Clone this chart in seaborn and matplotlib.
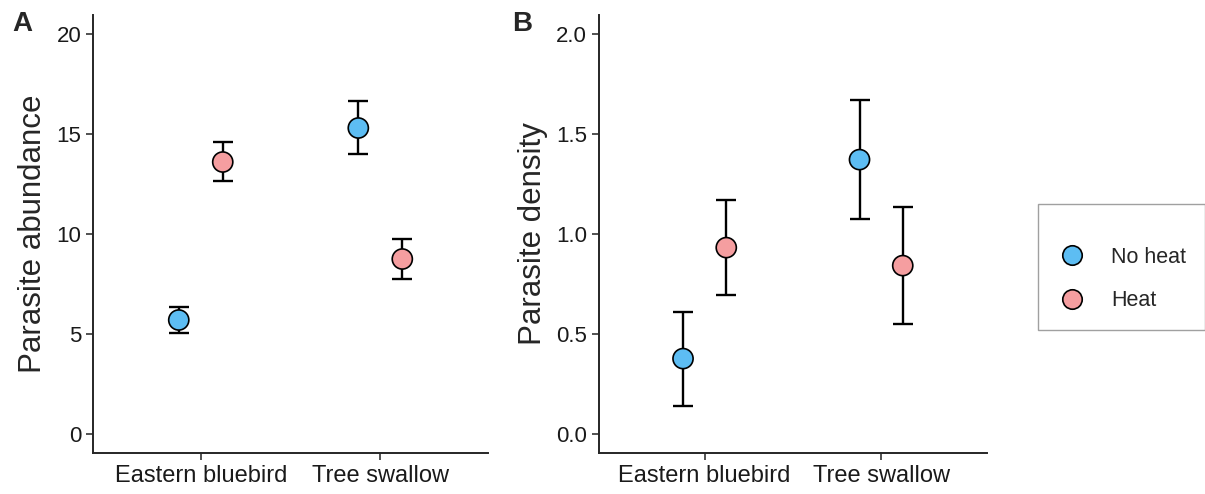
import numpy as np
import pandas as pd
import matplotlib
matplotlib.use("Agg")
import matplotlib.pyplot as plt
import seaborn as sns
from matplotlib.lines import Line2D

species = ["Eastern bluebird", "Tree swallow"]
treatments = ["No heat", "Heat"]

# panel A: parasite abundance (mean, lower, upper)
abund_mean = [5.7, 13.6, 15.3, 8.75]
abund_low = [5.05, 12.65, 14.0, 7.75]
abund_high = [6.35, 14.6, 16.65, 9.75]

# panel B: parasite density
dens_mean = [0.377, 0.932, 1.372, 0.842]
dens_low = [0.14, 0.693, 1.077, 0.548]
dens_high = [0.612, 1.17, 1.67, 1.135]

colors = {"No heat": "#5DBDF3", "Heat": "#F59EA0"}

sns.set_style("ticks")
plt.rcParams["font.family"] = ["Liberation Sans", "DejaVu Sans"]


def make_df(mean, low, high):
    rows = []
    i = 0
    for s_i, s in enumerate(species):
        for t_i, t in enumerate(treatments):
            rows.append({"species": s, "treatment": t,
                         "x": s_i + (t_i - 0.5) * 0.245,
                         "mean": mean[i], "low": low[i], "high": high[i]})
            i += 1
    return pd.DataFrame(rows)


fig = plt.figure(figsize=(12.05, 4.94), dpi=100)
axA = fig.add_axes([0.0772, 0.083, 0.3278, 0.8866])
axB = fig.add_axes([0.4969, 0.083, 0.3222, 0.8866])

panels = [
    (axA, make_df(abund_mean, abund_low, abund_high), "Parasite abundance",
     [0, 5, 10, 15, 20], (-0.95, 20.95), "A", 12, lambda v: f"{v:g}"),
    (axB, make_df(dens_mean, dens_low, dens_high), "Parasite density",
     [0.0, 0.5, 1.0, 1.5, 2.0], (-0.095, 2.095), "B", 512, lambda v: f"{v:.1f}"),
]

for ax, df, ylab, yt, ylim, letter, lx, fmt in panels:
    ax.errorbar(df["x"], df["mean"],
                yerr=[df["mean"] - df["low"], df["high"] - df["mean"]],
                fmt="none", ecolor="black", elinewidth=1.7, capsize=7.5,
                capthick=1.7, zorder=2)
    sns.scatterplot(data=df, x="x", y="mean", hue="treatment", palette=colors,
                    s=210, edgecolor="black", linewidth=1.2, ax=ax,
                    legend=False, zorder=3)
    ax.set_xlim(-0.6, 1.6)
    ax.set_ylim(*ylim)
    ax.set_xticks(range(len(species)))
    ax.set_xticklabels(species)
    ax.set_yticks(yt)
    ax.set_yticklabels([fmt(v) for v in yt])
    ax.set_xlabel("")
    ax.set_ylabel(ylab, fontsize=22.5, labelpad=6)
    ax.tick_params(axis="both", length=5, width=1.2,
                   color="#333333", labelcolor="#1a1a1a")
    ax.tick_params(axis="x", labelsize=17)
    ax.tick_params(axis="y", labelsize=16)
    for sp in ["left", "bottom"]:
        ax.spines[sp].set_linewidth(1.4)
    sns.despine(ax=ax)
    fig.text(lx / 1205, 1 - 11 / 494, letter, fontsize=20,
             fontweight="bold", va="top", ha="left")

handles = [Line2D([0], [0], marker="o", linestyle="none", markersize=14,
                  markerfacecolor=colors[t], markeredgecolor="black",
                  markeredgewidth=1.2) for t in treatments]
leg = fig.legend(handles, treatments, loc="upper left",
                 bbox_to_anchor=(1038 / 1205, 1 - 204 / 494), fontsize=15.5,
                 frameon=True, fancybox=False, edgecolor="#888888",
                 borderpad=0.88, handlelength=1.4, handletextpad=1.1,
                 labelspacing=1.05, borderaxespad=0, title=" ",
                 title_fontsize=1)
leg.get_frame().set_linewidth(1.0)

fig.savefig("out.png", dpi=100)
